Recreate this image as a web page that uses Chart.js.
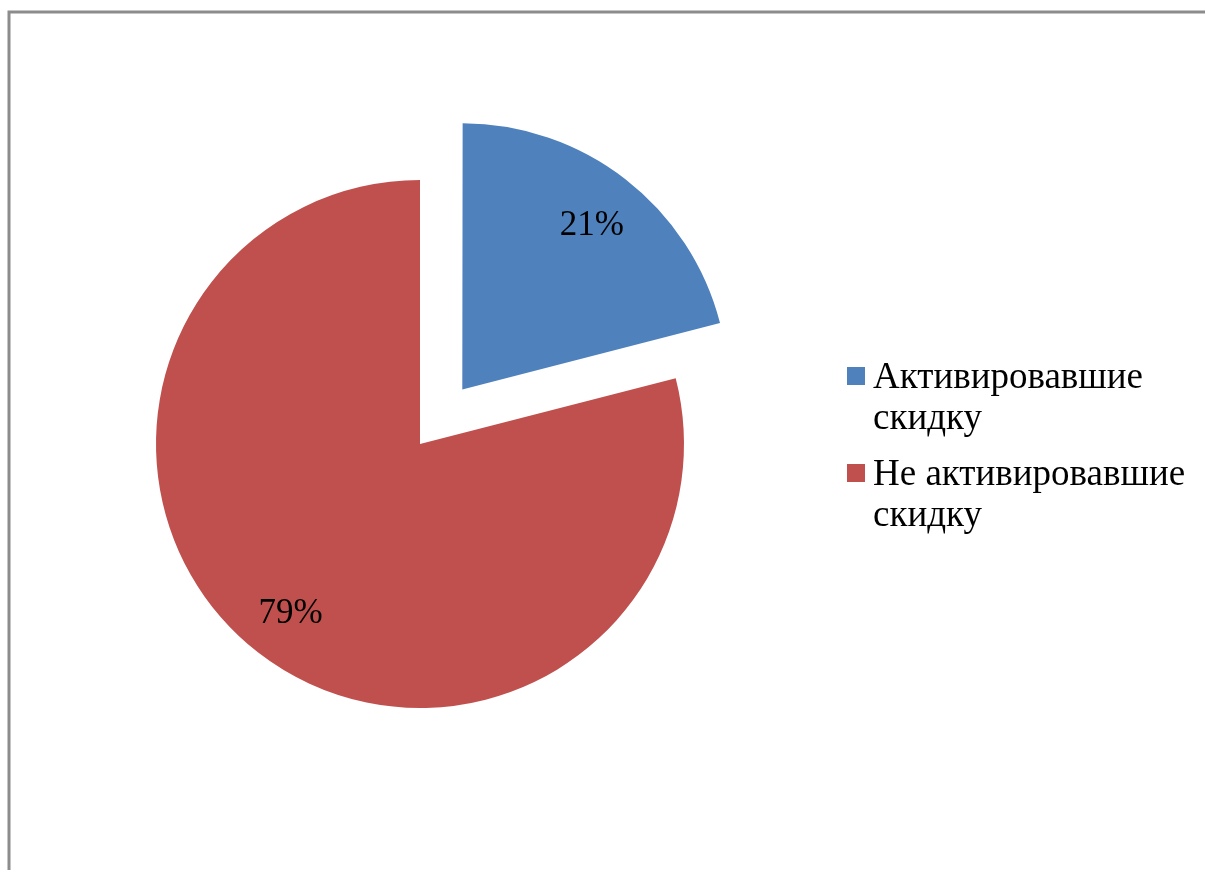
<!DOCTYPE html>
<html>
<head>
<meta charset="utf-8">
<script src="https://cdn.jsdelivr.net/npm/chart.js@4/dist/chart.umd.min.js"></script>
<style>
  html, body { margin: 0; padding: 0; background: #fff; }
  #wrap { width: 1205px; height: 870px; position: relative; }
</style>
</head>
<body>
<div id="wrap"><canvas id="pie"></canvas></div>
<script>
// Data
const labels = ['Активировавшие скидку', 'Не активировавшие скидку'];
const shares = [21, 79];
const colors = ['#4F81BD', '#C0504D'];

const FONT = "'Liberation Serif', 'Times New Roman', serif";
// Chart.js moves an exploded arc by offset / 4, so 276 gives ~69px
const EXPLODE = 276;

// frame lines on the left and top
const framePlugin = {
    id: 'frame',
    beforeDraw(chart) {
        const ctx = chart.ctx;
        ctx.save();
        ctx.strokeStyle = '#8c8c8c';
        ctx.lineWidth = 3;
        ctx.beginPath();
        ctx.moveTo(9, 870);
        ctx.lineTo(9, 12);
        ctx.lineTo(1205, 12);
        ctx.stroke();
        ctx.restore();
    }
};

// percentage labels inside slices
const labelPlugin = {
    id: 'sliceLabels',
    afterDatasetsDraw(chart) {
        const ctx = chart.ctx;
        const meta = chart.getDatasetMeta(0);
        const total = shares.reduce((a, b) => a + b, 0);
        ctx.save();
        ctx.font = '35px ' + FONT;
        ctx.fillStyle = '#000';
        ctx.textAlign = 'center';
        ctx.textBaseline = 'alphabetic';
        meta.data.forEach((arc, i) => {
            const p = arc.getProps(['x', 'y', 'startAngle', 'endAngle', 'outerRadius']);
            const mid = (p.startAngle + p.endAngle) / 2;
            const off = (arc.options.offset || 0) / 4;
            const r = p.outerRadius * 0.8 + off;
            const x = p.x + Math.cos(mid) * r;
            const y = p.y + Math.sin(mid) * r;
            ctx.fillText(Math.round(shares[i] / total * 100) + '%', x, y + 12);
        });
        ctx.restore();
    }
};

// legend on the right, wrapped text
const legendPlugin = {
    id: 'sideLegend',
    afterDraw(chart) {
        const ctx = chart.ctx;
        const textX = 873;
        const maxW = 1200 - textX;
        const lineH = 41;
        let baseY = 388;
        ctx.save();
        ctx.font = '37px ' + FONT;
        ctx.textAlign = 'left';
        ctx.textBaseline = 'alphabetic';
        labels.forEach((lab, i) => {
            const words = lab.split(' ');
            const lines = [];
            let cur = '';
            words.forEach(w => {
                const test = cur ? cur + ' ' + w : w;
                if (cur && ctx.measureText(test).width > maxW) {
                    lines.push(cur);
                    cur = w;
                } else {
                    cur = test;
                }
            });
            lines.push(cur);
            ctx.fillStyle = colors[i];
            ctx.fillRect(847, baseY - 21, 18, 18);
            ctx.fillStyle = '#000';
            lines.forEach((ln, k) => ctx.fillText(ln, textX, baseY + k * lineH));
            baseY += lines.length * lineH + 15;
        });
        ctx.restore();
    }
};

new Chart(document.getElementById('pie'), {
    type: 'pie',
    data: {
        labels: labels,
        datasets: [{
            data: shares,
            backgroundColor: colors,
            borderWidth: 0,
            offset: [EXPLODE, 0]
        }]
    },
    options: {
        responsive: true,
        maintainAspectRatio: false,
        animation: false,
        radius: 264,
        layout: { padding: { left: 120, right: 485, top: 144, bottom: 126 } },
        plugins: {
            legend: { display: false },
            tooltip: { enabled: false }
        }
    },
    plugins: [framePlugin, labelPlugin, legendPlugin]
});
</script>
</body>
</html>
